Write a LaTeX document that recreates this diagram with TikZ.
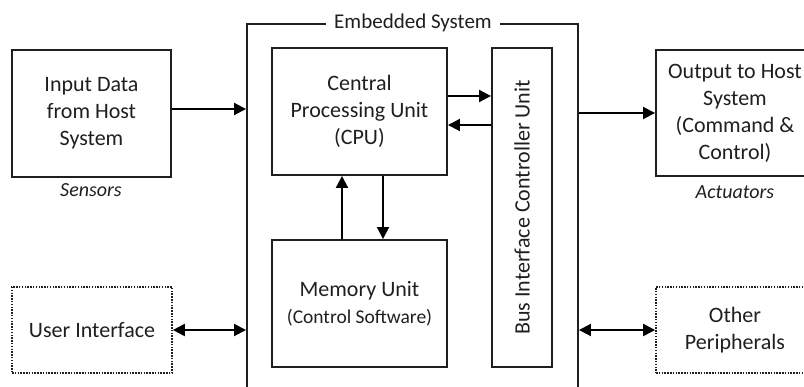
\documentclass[tikz,border=0pt]{standalone}
\usepackage{fontspec}
\setmainfont{Carlito}
\usepackage{tikz}
\usetikzlibrary{arrows.meta,calc,positioning}
\tikzset{
  blk/.style={draw=black!88, line width=1.9pt, align=center, inner sep=2pt,
    text=black!88, font=\fontsize{22}{27}\selectfont},
  dotblk/.style={blk, line width=1.7pt, dash pattern=on 1.5pt off 1.3pt},
  captxt/.style={text=black!88, font=\fontsize{20}{24}\selectfont\itshape},
  arr/.style={line width=1.9pt, draw=black, -{Triangle[length=12pt,width=12pt]}},
  darr/.style={arr, {Triangle[length=12pt,width=12pt]}-{Triangle[length=12pt,width=12pt]}}
}
\begin{document}
\begin{tikzpicture}[x=1pt,y=-1pt]
\useasboundingbox (0,0) rectangle (804,387);
\clip (0,0) rectangle (804,387);
\node[blk, minimum width=331pt, minimum height=400pt] (sys) at (412.5,224) {};
\node[fill=white, inner xsep=8pt, inner ysep=2pt, text=black!88, font=\fontsize{21}{25}\selectfont] (systitle) at (413,23) {Embedded System};
\node[blk, minimum width=159pt, minimum height=127pt] (inp) at (91.5,113.5) {Input Data\\from Host\\System};
\node[captxt] (sens) at (91,190) {Sensors};
\node[blk, minimum width=175pt, minimum height=127pt] (cpu) at (359.5,111.5) {Central\\Processing Unit\\(CPU)};
\node[blk, minimum width=175pt, minimum height=127pt] (mem) at (359.5,303.5) {Memory Unit\\{\fontsize{19.5}{27}\selectfont(Control Software)}};
\node[blk, minimum width=60pt, minimum height=319pt] (bus) at (522,207.5) {};
\node[text=black!88, font=\fontsize{22}{27}\selectfont, rotate=90] (buslbl) at (bus.center) {Bus Interface Controller Unit};
\node[blk, minimum width=158pt, minimum height=126pt] (out) at (735,113) {Output to Host\\System\\(Command \&\\Control)};
\node[captxt] (act) at (735,192) {Actuators};
\node[dotblk, minimum width=160pt, minimum height=86pt] (ui) at (92,330) {User Interface};
\node[dotblk, minimum width=158pt, minimum height=86pt] (per) at (735,330) {Other\\Peripherals};

\coordinate (inpout) at ($(inp.east)+(0,-4.5)$);
\coordinate (cputx) at ($(cpu.east)+(0,-15.5)$);
\coordinate (cpurx) at ($(cpu.east)+(0,13.5)$);
\coordinate (memup) at ($(mem.north)+(-17.5,0)$);
\coordinate (cpudn) at ($(cpu.south)+(23.5,0)$);

\draw[arr] (inpout) -- (inpout -| sys.west);
\draw[arr] (cputx) -- (cputx -| bus.west);
\draw[arr] (cpurx -| bus.west) -- (cpurx);
\draw[arr] (memup) -- (memup |- cpu.south);
\draw[arr] (cpudn) -- (cpudn |- mem.north);
\draw[arr] (out.west -| sys.east) -- (out.west);
\draw[darr] (ui.east) -- (ui.east -| sys.west);
\draw[darr] (per.west -| sys.east) -- (per.west);
\end{tikzpicture}
\end{document}
